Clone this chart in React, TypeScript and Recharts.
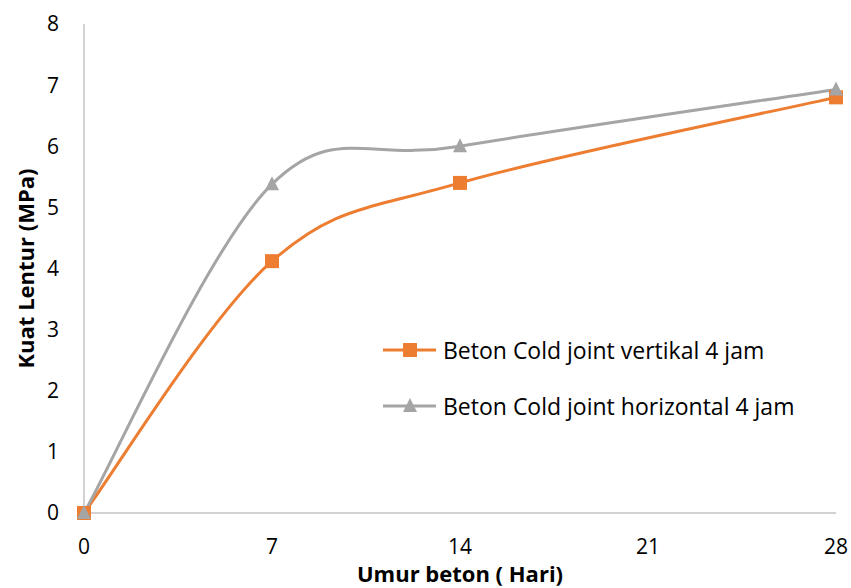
import React from 'react';
import { LineChart, Line, XAxis, YAxis, Legend, Label } from 'recharts';

const days = [0, 7, 14, 28];
const vertikal = [0, 4.12, 5.4, 6.8];
const horizontal = [0, 5.38, 6.0, 6.93];
const xTicks = [0, 7, 14, 21, 28];
const yTicks = [0, 1, 2, 3, 4, 5, 6, 7, 8];

const seriesNames = ['Beton Cold joint vertikal 4 jam', 'Beton Cold joint horizontal 4 jam'];

const data = days.map((d, i) => ({ day: d, vertikal: vertikal[i], horizontal: horizontal[i] }));

const FONT = '"Open Sans", sans-serif';
const ORANGE = '#ED7D31';
const GRAY = '#A5A5A5';
const AXIS = '#A6A6A6';

// smoothing like the spreadsheet: bezier with control points at 1/6 of neighbour span
const smoothCurve = (context: any) => {
  let pts: number[][] = [];
  return {
    areaStart() {},
    areaEnd() {},
    lineStart() {
      pts = [];
    },
    point(x: number, y: number) {
      pts.push([+x, +y]);
    },
    lineEnd() {
      if (!pts.length) return;
      context.moveTo(pts[0][0], pts[0][1]);
      for (let i = 0; i < pts.length - 1; i++) {
        const p0 = pts[Math.max(i - 1, 0)];
        const p1 = pts[i];
        const p2 = pts[i + 1];
        const p3 = pts[Math.min(i + 2, pts.length - 1)];
        context.bezierCurveTo(
          p1[0] + (p2[0] - p0[0]) / 6,
          p1[1] + (p2[1] - p0[1]) / 6,
          p2[0] - (p3[0] - p1[0]) / 6,
          p2[1] - (p3[1] - p1[1]) / 6,
          p2[0],
          p2[1]
        );
      }
    },
  };
};

const SquareDot = (props: any) => {
  const { cx, cy } = props;
  if (cx == null || cy == null) return null;
  return <rect x={cx - 7} y={cy - 7} width={14} height={14} fill={ORANGE} />;
};

const TriangleDot = (props: any) => {
  const { cx, cy } = props;
  if (cx == null || cy == null) return null;
  return <polygon points={`${cx},${cy - 8} ${cx + 7},${cy + 6} ${cx - 7},${cy + 6}`} fill={GRAY} />;
};

const renderLegend = () => (
  <div style={{ fontFamily: FONT, fontSize: 23, color: '#000' }}>
    {seriesNames.map((name, i) => (
      <div key={name} style={{ display: 'flex', alignItems: 'center', height: 56, whiteSpace: 'nowrap' }}>
        <svg width={56} height={20} style={{ marginRight: 4, flexShrink: 0 }}>
          <line x1={0} y1={10} x2={53} y2={10} stroke={i === 0 ? ORANGE : GRAY} strokeWidth={3} />
          {i === 0 ? (
            <rect x={20} y={3} width={14} height={14} fill={ORANGE} />
          ) : (
            <polygon points="27,2 34,16 20,16" fill={GRAY} />
          )}
        </svg>
        <span>{name}</span>
      </div>
    ))}
  </div>
);

const YTitle = (props: any) => {
  const vb = props.viewBox;
  const cx = vb.x + 11;
  const cy = vb.y + vb.height / 2;
  return (
    <text
      x={cx}
      y={cy}
      transform={`rotate(-90, ${cx}, ${cy})`}
      textAnchor="middle"
      dominantBaseline="central"
      fontFamily={FONT}
      fontWeight="bold"
      fontSize={22}
      fill="#000"
    >
      Kuat Lentur (MPa)
    </text>
  );
};

const XTitle = (props: any) => {
  const vb = props.viewBox;
  return (
    <text
      x={vb.x + vb.width / 2}
      y={582}
      textAnchor="middle"
      fontFamily={FONT}
      fontWeight="bold"
      fontSize={22}
      fill="#000"
    >
      Umur beton ( Hari)
    </text>
  );
};

export default function App() {
  return (
    <div style={{ position: 'absolute', left: 0, top: 0, background: '#fff' }}>
      <LineChart width={851} height={588} data={data} margin={{ top: 24, right: 15, left: 14, bottom: 15 }}>
        <XAxis
          dataKey="day"
          type="number"
          domain={[0, 28]}
          ticks={xTicks}
          interval={0}
          tickLine={false}
          tickSize={0}
          tickMargin={26}
          axisLine={{ stroke: AXIS, strokeWidth: 1 }}
          tick={{ fontSize: 21, fill: '#000', fontFamily: FONT }}
          height={60}
        >
          <Label content={XTitle} />
        </XAxis>
        <YAxis
          type="number"
          domain={[0, 8]}
          ticks={yTicks}
          interval={0}
          tickLine={false}
          tickSize={0}
          tickMargin={25}
          axisLine={{ stroke: AXIS, strokeWidth: 1 }}
          tick={{ fontSize: 21, fill: '#000', fontFamily: FONT }}
          width={70}
        >
          <Label content={YTitle} />
        </YAxis>
        <Legend
          content={renderLegend}
          layout="vertical"
          align="center"
          verticalAlign="middle"
          wrapperStyle={{ left: 383, top: 322, width: 460 }}
        />
        <Line
          name={seriesNames[0]}
          dataKey="vertikal"
          type={smoothCurve as any}
          stroke={ORANGE}
          strokeWidth={3}
          dot={<SquareDot />}
          activeDot={false}
          isAnimationActive={false}
        />
        <Line
          name={seriesNames[1]}
          dataKey="horizontal"
          type={smoothCurve as any}
          stroke={GRAY}
          strokeWidth={3}
          dot={<TriangleDot />}
          activeDot={false}
          isAnimationActive={false}
        />
      </LineChart>
    </div>
  );
}
